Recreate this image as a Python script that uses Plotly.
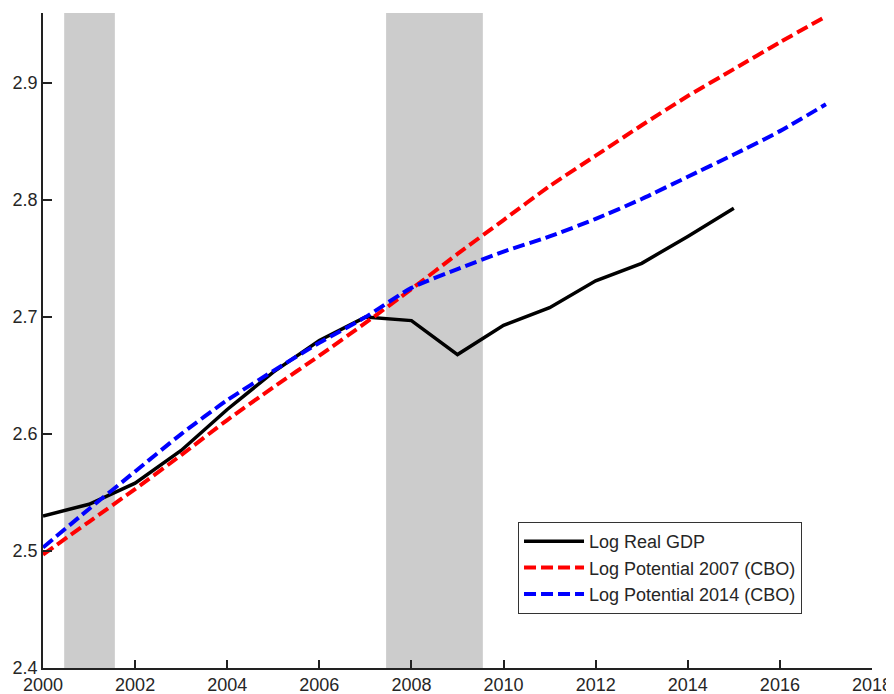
import plotly.graph_objects as go

years_gdp = list(range(2000, 2016))
log_real_gdp = [2.530, 2.540, 2.558, 2.586, 2.621, 2.653, 2.680, 2.700,
                2.697, 2.668, 2.693, 2.708, 2.731, 2.746, 2.769, 2.793]

years_pot = list(range(2000, 2018))
log_pot_2007 = [2.497, 2.525, 2.553, 2.582, 2.612, 2.640, 2.667, 2.695, 2.724,
                2.754, 2.783, 2.812, 2.838, 2.864, 2.889, 2.912, 2.935, 2.957]
log_pot_2014 = [2.503, 2.536, 2.568, 2.600, 2.629, 2.654, 2.678, 2.700, 2.725,
                2.741, 2.756, 2.769, 2.784, 2.801, 2.820, 2.839, 2.859, 2.882]

recessions = [(2000.46, 2001.56), (2007.45, 2009.55)]

x_ticks = list(range(2000, 2019, 2))
y_ticks = [2.4, 2.5, 2.6, 2.7, 2.8, 2.9]

fig = go.Figure()

fig.add_trace(go.Scatter(x=years_gdp, y=log_real_gdp, mode="lines",
                         name="Log Real GDP",
                         line=dict(color="black", width=3.5)))
fig.add_trace(go.Scatter(x=years_pot, y=log_pot_2007, mode="lines",
                         name="Log Potential 2007 (CBO)",
                         line=dict(color="#ff0000", width=4, dash="12px,5px", shape="spline", smoothing=0.6)))
fig.add_trace(go.Scatter(x=years_pot, y=log_pot_2014, mode="lines",
                         name="Log Potential 2014 (CBO)",
                         line=dict(color="#0000ff", width=4, dash="12px,5px", shape="spline", smoothing=0.6)))

for x0, x1 in recessions:
    fig.add_shape(type="rect", xref="x", yref="paper", x0=x0, x1=x1, y0=0, y1=1,
                  fillcolor="#cccccc", line=dict(width=0), layer="below")

fig.update_layout(
    width=886, height=686,
    margin=dict(l=35, r=22, t=5, b=26, autoexpand=False),
    paper_bgcolor="white", plot_bgcolor="white",
    font=dict(family="Liberation Sans, Arial, sans-serif", size=18, color="#262626"),
    showlegend=True,
    legend=dict(x=0.573, y=0.223, xanchor="left", yanchor="top",
                bgcolor="white", bordercolor="#333333", borderwidth=1,
                font=dict(size=18, color="#262626"), itemwidth=60,
                traceorder="normal"),
)
fig.update_xaxes(range=[2000, 2018], tickvals=x_ticks, ticktext=[str(v) for v in x_ticks],
                 automargin=False,
                 showgrid=False, zeroline=False, showline=True, linecolor="#222222", linewidth=1.5,
                 ticks="inside", ticklen=8, tickwidth=1.5, tickcolor="#222222")
fig.update_yaxes(range=[2.4, 2.96], tickvals=y_ticks, ticktext=[f"{v:.1f}" for v in y_ticks],
                 automargin=False,
                 showgrid=False, zeroline=False, showline=True, linecolor="#222222", linewidth=1.5,
                 ticks="inside", ticklen=9, tickwidth=1.5, tickcolor="#222222")

fig.write_html("out.html")
